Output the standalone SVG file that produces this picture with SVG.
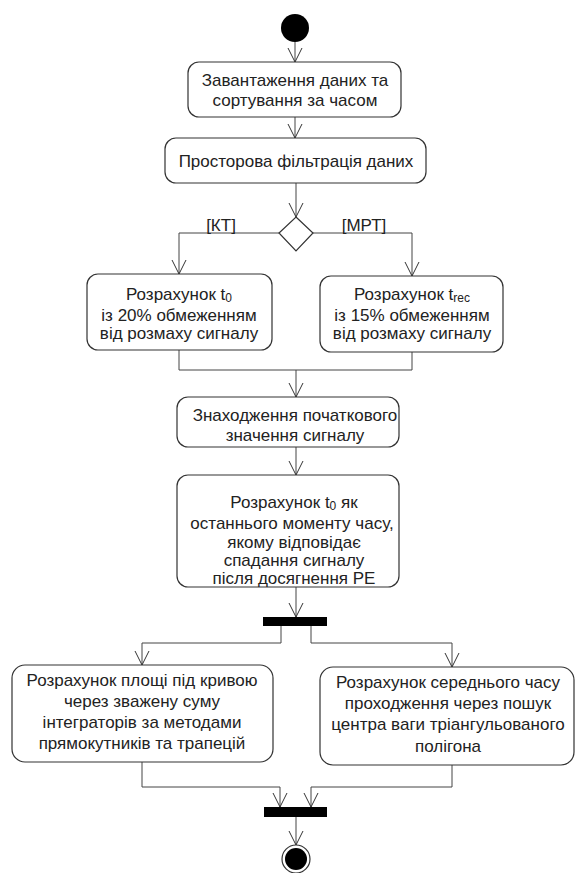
<svg xmlns="http://www.w3.org/2000/svg" width="576" height="873" viewBox="0 0 576 873">
<defs>
<marker id="arr" viewBox="-15 -8 16 16" refX="0" refY="0" markerWidth="16" markerHeight="16" markerUnits="userSpaceOnUse" orient="auto">
<path d="M-14,-7 L0,0 L-14,7" fill="none" stroke="#333" stroke-width="1"/>
</marker>
<style>
.box{fill:#fff;stroke:#333;stroke-width:1.2}
.t{font-family:"Liberation Sans",Arial,sans-serif;font-size:17px;fill:#222;text-anchor:middle}
.c{fill:none;stroke:#444;stroke-width:1}
.a{marker-end:url(#arr)}
.bar{fill:#000}
</style>
</defs>
<rect width="576" height="873" fill="#fff"/>
<g id="connectors">
<path class="c a" d="M295,42 V62"/>
<path class="c a" d="M295,117 V138"/>
<path class="c a" d="M296,183 V217"/>
<path class="c a" d="M279,233 H179 V274"/>
<path class="c a" d="M313,233 H412 V276"/>
<path class="c" d="M179,350 V370 H412 V352"/>
<path class="c a" d="M296,370 V397"/>
<path class="c a" d="M296,447 V475"/>
<path class="c a" d="M296,587 V617"/>
<path class="c a" d="M281,626 V643 H142 V665"/>
<path class="c a" d="M311,626 V643 H452 V667"/>
<path class="c a" d="M142,762 V787 H280 V807"/>
<path class="c a" d="M452,765 V787 H311 V807"/>
<path class="c a" d="M296,817 V845"/>
</g>
<g id="start"><circle cx="295" cy="28" r="14" fill="#000"/></g>
<g id="load">
<rect class="box" x="188" y="62" width="213" height="55" rx="11"/>
<text class="t" x="295" y="86">Завантаження даних та</text>
<text class="t" x="295" y="106">сортування за часом</text>
</g>
<g id="filter">
<rect class="box" x="165" y="138" width="261" height="45" rx="11"/>
<text class="t" x="296" y="167">Просторова фільтрація даних</text>
</g>
<g id="decision">
<polygon points="296,217 313,233 296,251 279,233" fill="#fff" stroke="#333" stroke-width="1.2"/>
<text class="t" x="221" y="231">[КТ]</text>
<text class="t" x="364" y="231">[МРТ]</text>
</g>
<g id="ct">
<rect class="box" x="87" y="274" width="185" height="76" rx="11"/>
<text class="t" x="179" y="300">Розрахунок t<tspan font-size="12" dy="2">0</tspan></text>
<text class="t" x="179" y="321">із 20% обмеженням</text>
<text class="t" x="179" y="339">від розмаху сигналу</text>
</g>
<g id="mrt">
<rect class="box" x="320" y="276" width="183" height="76" rx="11"/>
<text class="t" x="412" y="300">Розрахунок t<tspan font-size="12" dy="2">rec</tspan></text>
<text class="t" x="412" y="321">із 15% обмеженням</text>
<text class="t" x="412" y="339">від розмаху сигналу</text>
</g>
<g id="initial">
<rect class="box" x="177" y="397" width="222" height="50" rx="11"/>
<text class="t" x="295" y="421">Знаходження початкового</text>
<text class="t" x="295" y="441">значення сигналу</text>
</g>
<g id="t0">
<rect class="box" x="177" y="475" width="222" height="112" rx="11"/>
<text class="t" x="294" y="508">Розрахунок t<tspan font-size="12" dy="2">0</tspan><tspan dy="-2"> як</tspan></text>
<text class="t" x="292" y="529">останнього моменту часу,</text>
<text class="t" x="294" y="548">якому відповідає</text>
<text class="t" x="294" y="566">спадання сигналу</text>
<text class="t" x="294" y="584">після досягнення РЕ</text>
</g>
<g id="fork"><rect class="bar" x="263" y="617" width="64" height="9"/></g>
<g id="area">
<rect class="box" x="12" y="665" width="261" height="97" rx="13"/>
<text class="t" x="142" y="686">Розрахунок площі під кривою</text>
<text class="t" x="142" y="707">через зважену суму</text>
<text class="t" x="142" y="728">інтеграторів за методами</text>
<text class="t" x="142" y="749">прямокутників та трапецій</text>
</g>
<g id="transit">
<rect class="box" x="320" y="667" width="254" height="98" rx="13"/>
<text class="t" x="448" y="688">Розрахунок середнього часу</text>
<text class="t" x="448" y="709">проходження через пошук</text>
<text class="t" x="448" y="730">центра ваги тріангульованого</text>
<text class="t" x="448" y="752">полігона</text>
</g>
<g id="join"><rect class="bar" x="264" y="807" width="63" height="10"/></g>
<g id="end">
<circle cx="296" cy="859" r="14" fill="#fff" stroke="#333" stroke-width="1.2"/>
<circle cx="296" cy="859" r="11" fill="#000"/>
</g>
</svg>
